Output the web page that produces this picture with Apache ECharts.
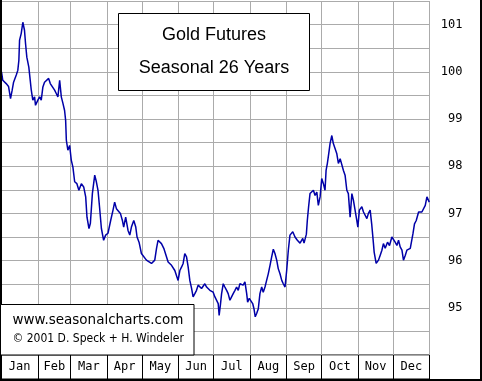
<!DOCTYPE html>
<html>
<head>
<meta charset="utf-8">
<script src="https://cdn.jsdelivr.net/npm/echarts@6/dist/echarts.min.js"></script>
<style>
html,body{margin:0;padding:0;background:#fff;}
#chart{width:482px;height:381px;}
</style>
</head>
<body>
<div id="chart"></div>
<script>
// Day of year (0..365)
var days = [0,1.1,4.0,6.0,7.7,9.1,10.3,12.6,13.9,14.8,15.4,16.8,18.2,19.6,20.5,21.6,23.3,24.5,25.4,26.7,28.2,29.0,31.0,32.5,33.9,35.3,36.7,38.2,40.2,41.6,43.3,45.3,46.7,48.1,49.6,51.0,52.4,53.8,54.7,55.3,56.6,58.1,59.5,60.9,62.4,64.3,66.0,68.1,70.1,71.8,72.9,74.6,75.8,77.5,79.5,80.9,82.3,83.7,85.2,87.1,88.8,90.8,93.1,95.1,96.5,98.0,99.4,101.4,103.1,104.2,105.9,107.9,109.4,110.8,112.8,114.5,115.6,117.3,118.5,119.3,123.6,127.9,130.7,132.2,133.5,136.4,138.4,142.1,145.0,147.8,150.6,152.1,153.5,154.9,156.3,157.8,159.2,160.6,162.1,163.4,164.9,166.3,167.7,169.2,170.6,172.0,173.4,174.9,176.2,177.7,179.1,180.5,182.0,183.4,184.8,185.6,186.8,187.7,189.1,190.5,192.0,193.3,194.8,196.2,197.6,199.1,200.5,201.9,203.3,204.8,206.1,207.6,209.1,209.9,211.3,212.7,214.2,215.3,216.4,217.6,219.0,220.4,221.9,223.2,224.7,226.1,227.5,229.0,230.4,231.8,233.2,234.7,236.0,237.5,239.0,240.3,241.8,243.2,244.6,246.0,248.4,250.3,252.3,254.6,256.9,258.0,260.0,260.8,261.9,263.1,264.6,266.0,267.4,268.9,270.2,271.7,273.1,274.5,275.9,276.8,277.9,279.1,280.2,281.7,283.0,284.5,285.9,287.3,288.8,290.2,291.6,293.0,294.5,295.8,297.3,298.8,300.1,301.6,303.0,303.9,305.2,307.3,308.7,310.1,311.6,312.9,314.4,315.8,317.2,317.8,319.5,321.5,322.9,324.4,325.7,327.2,329.2,330.9,332.9,334.3,335.7,337.2,338.6,340.0,341.5,342.8,344.3,345.7,348.6,350.0,350.9,352.2,353.7,354.8,355.7,357.1,358.5,360.0,361.4,362.8,363.7,364.8];
// Seasonal index values
var values = [100.00,99.82,99.75,99.69,99.43,99.61,99.78,99.93,100.03,100.24,100.67,100.81,101.05,100.88,100.60,100.31,100.10,99.82,99.61,99.40,99.47,99.29,99.40,99.47,99.40,99.68,99.78,99.75,99.86,99.75,99.71,99.61,99.54,99.47,99.82,99.47,99.33,99.18,98.97,98.55,98.34,98.44,98.13,97.98,97.67,97.63,97.49,97.63,97.56,97.35,96.92,96.68,96.79,97.42,97.81,97.67,97.49,97.11,96.68,96.43,96.54,96.58,96.85,97.07,97.24,97.10,97.07,97.00,96.85,96.71,96.92,96.64,96.54,96.71,96.85,96.71,96.50,96.39,96.25,96.15,96.01,95.94,96.01,96.26,96.43,96.36,96.26,95.97,95.90,95.79,95.58,95.79,95.86,95.94,96.15,96.08,95.86,95.58,95.41,95.23,95.30,95.37,95.48,95.51,95.41,95.44,95.51,95.44,95.41,95.37,95.33,95.33,95.23,95.20,95.09,94.84,95.09,95.30,95.51,95.44,95.37,95.30,95.16,95.23,95.30,95.37,95.44,95.37,95.51,95.55,95.48,95.55,95.30,95.12,95.20,95.16,95.09,94.98,94.81,94.88,94.98,95.30,95.44,95.33,95.44,95.58,95.72,95.90,96.08,96.24,96.15,96.01,95.83,95.72,95.58,95.51,95.44,95.79,96.22,96.54,96.61,96.50,96.43,96.37,96.47,96.37,96.56,96.85,97.14,97.42,97.45,97.49,97.38,97.45,97.17,97.35,97.74,97.63,97.49,97.91,98.06,98.27,98.48,98.65,98.48,98.51,98.27,98.06,98.16,98.20,97.91,97.81,97.49,97.42,96.92,97.42,97.28,97.31,96.85,96.71,97.07,97.14,97.03,97.00,96.89,97.00,97.07,96.75,96.36,96.18,95.94,96.01,96.11,96.22,96.36,96.26,96.39,96.32,96.50,96.54,96.39,96.32,96.43,96.29,96.22,96.01,96.11,96.22,96.26,96.22,96.57,96.78,96.85,96.89,97.03,97.07,97.03,97.07,97.17,97.35,97.38,97.24];
var months = ['Jan','Feb','Mar','Apr','May','Jun','Jul','Aug','Sep','Oct','Nov','Dec'];
var monthStarts = [0,31,59,90,120,151,181,212,243,273,304,334,365];
var monthMids = [15.5,45,74.5,105,135.5,166,196.5,227.5,258,288.5,319,349.5];
var yMin = 94, yMax = 101.5, yStep = 0.5;
var titleLines = ['Gold Futures', 'Seasonal 26 Years'];
var creditLines = ['www.seasonalcharts.com', '\u00a9 2001 D. Speck + H. Windeler'];

var seriesData = days.map(function (d, i) { return [d, values[i]]; });

var chart = echarts.init(document.getElementById('chart'), null, {renderer: 'canvas'});
var gridColor = '#ababab';
var monoFont = '"DejaVu Sans Mono", monospace';

chart.setOption({
  animation: false,
  backgroundColor: '#fff',
  grid: [
    {left: 1.5, top: 1, width: 428, height: 354},
    {left: 1.5, top: 355, width: 428, height: 24, show: true, borderColor: '#000', borderWidth: 1}
  ],
  xAxis: [
    {
      gridIndex: 0, type: 'value', min: 0, max: 365,
      axisLine: {show: false},
      axisTick: {show: false, customValues: monthStarts},
      splitLine: {show: true, lineStyle: {color: gridColor, width: 1}},
      axisLabel: {
        show: true, customValues: monthMids, margin: 6,
        fontFamily: monoFont, fontSize: 12, color: '#000',
        formatter: function (v) { var i = monthMids.indexOf(v); return i >= 0 ? months[i] : ''; }
      }
    },
    {
      gridIndex: 1, type: 'value', min: 0, max: 365,
      axisLine: {show: false},
      axisTick: {show: false, customValues: monthStarts},
      splitLine: {show: true, lineStyle: {color: '#000', width: 1}},
      axisLabel: {show: false}
    }
  ],
  yAxis: [
    {
      gridIndex: 0, type: 'value', position: 'right', min: yMin, max: yMax, interval: yStep,
      axisLine: {show: true, lineStyle: {color: '#000', width: 1}},
      axisTick: {show: false},
      splitLine: {show: true, lineStyle: {color: gridColor, width: 1}},
      axisLabel: {
        align: 'right', margin: 33, fontFamily: monoFont, fontSize: 12, color: '#000',
        formatter: function (v) { return (v % 1 === 0 && v > yMin) ? String(v) : ''; }
      }
    },
    {gridIndex: 1, type: 'value', min: 0, max: 1, show: false}
  ],
  series: [{
    type: 'line', xAxisIndex: 0, yAxisIndex: 0,
    data: seriesData, showSymbol: false, symbol: 'none',
    lineStyle: {color: '#0000a8', width: 1.5},
    z: 3
  }],
  graphic: [
    {type: 'rect', z: 100, shape: {x: 0, y: 0, width: 2, height: 381}, style: {fill: '#000'}},
    {type: 'rect', z: 100, shape: {x: 480, y: 0, width: 2, height: 381}, style: {fill: '#000'}},
    {type: 'rect', z: 100, shape: {x: 0, y: 379, width: 482, height: 2}, style: {fill: '#000'}},
    {type: 'rect', z: 100, shape: {x: 118.5, y: 13.5, width: 191, height: 77}, style: {fill: '#fff', stroke: '#000', lineWidth: 1}},
    {type: 'text', z: 101, x: 214, y: 35, style: {text: titleLines[0], font: '18px "Liberation Sans", Arial, sans-serif', fill: '#000', align: 'center', verticalAlign: 'middle'}},
    {type: 'text', z: 101, x: 214, y: 68.5, style: {text: titleLines[1], font: '18px "Liberation Sans", Arial, sans-serif', fill: '#000', align: 'center', verticalAlign: 'middle'}},
    {type: 'rect', z: 100, shape: {x: 0.5, y: 304.5, width: 193.5, height: 50.5}, style: {fill: '#fff', stroke: '#000', lineWidth: 1}},
    {type: 'text', z: 101, x: 12.5, y: 320.5, style: {text: creditLines[0], font: '13.5px "DejaVu Sans", sans-serif', fill: '#000', align: 'left', verticalAlign: 'middle'}},
    {type: 'text', z: 101, x: 12.5, y: 338.5, style: {text: creditLines[1], font: '12px "DejaVu Sans Condensed", "DejaVu Sans", sans-serif', fill: '#000', align: 'left', verticalAlign: 'middle'}}
  ]
});
</script>
</body>
</html>
